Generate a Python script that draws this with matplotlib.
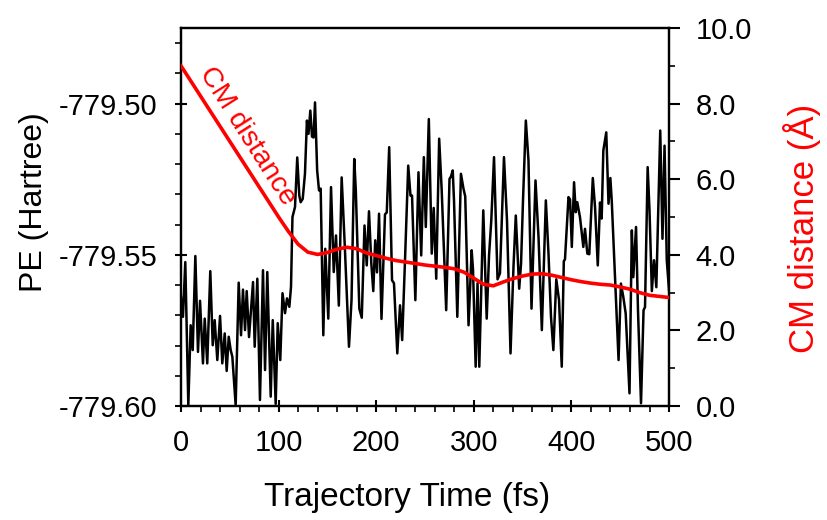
import matplotlib
matplotlib.use("Agg")
import matplotlib.pyplot as plt
from matplotlib.ticker import MultipleLocator, FormatStrFormatter

plt.rcParams['font.family'] = ['Liberation Sans', 'DejaVu Sans']

# potential energy along the trajectory
time_pe = [0.0, 2.0, 4.4, 7.5, 9.9, 12.0, 14.7, 17.4, 19.5, 22.5, 24.3, 26.9, 30.0, 32.5,
           34.5, 37.2, 40.0, 42.3, 44.8, 46.8, 48.9, 50.9, 52.6, 56.0, 59.1, 61.5, 63.5,
           65.6, 67.3, 69.7, 73.8, 75.5, 78.2, 80.9, 84.0, 86.1, 88.4, 91.9, 94.0, 97.0,
           99.1, 101.7, 104.0, 106.6, 108.6, 111.0, 112.7, 114.2, 116.8, 119.1, 121.2,
           122.6, 124.7, 127.0, 129.0, 130.6, 132.5, 134.2, 135.8, 137.3, 139.5, 141.4,
           143.1, 145.8, 147.8, 150.9, 153.7, 156.5, 158.8, 161.7, 164.6, 167.7, 172.1,
           174.7, 177.5, 179.1, 182.7, 185.2, 188.0, 190.3, 192.6, 195.0, 197.0, 199.0,
           200.8, 202.9, 205.4, 209.0, 210.8, 213.3, 216.2, 218.2, 221.6, 224.4, 226.6,
           229.5, 232.8, 235.1, 236.7, 240.1, 243.3, 246.1, 248.8, 250.8, 253.9, 256.9,
           258.9, 261.5, 264.5, 267.1, 271.7, 275.1, 276.6, 278.4, 279.7, 283.1, 286.8,
           289.4, 291.2, 294.6, 297.8, 299.2, 301.9, 303.8, 305.6, 309.7, 313.2, 315.6,
           317.9, 320.7, 324.3, 326.8, 330.9, 334.0, 337.6, 340.7, 343.0, 346.5, 348.4,
           350.4, 353.3, 356.0, 359.1, 363.2, 366.3, 369.7, 373.8, 376.5, 379.1, 381.5,
           384.5, 387.3, 390.1, 392.2, 393.4, 397.0, 398.6, 400.4, 402.7, 404.4, 406.0,
           408.8, 412.2, 413.9, 416.3, 418.3, 421.9, 424.2, 427.0, 429.3, 431.0, 432.7,
           435.7, 438.0, 439.9, 441.3, 444.7, 448.3, 450.7, 453.2, 455.6, 459.5, 461.9,
           463.4, 466.2, 468.2, 471.3, 473.9, 475.4, 478.1, 480.0, 482.4, 484.6, 487.0,
           491.0, 493.3, 495.4, 497.7, 500.0]
pe = [-779.5639, -779.5705, -779.5524, -779.5997, -779.5733, -779.5815, -779.5504,
      -779.5821, -779.5652, -779.5859, -779.5711, -779.5859, -779.5554, -779.5799,
      -779.5716, -779.5848, -779.5702, -779.5859, -779.5760, -779.5884, -779.5771,
      -779.5815, -779.5837, -779.5997, -779.5592, -779.5766, -779.5615, -779.5749,
      -779.5620, -779.5772, -779.5590, -779.5804, -779.5579, -779.5980, -779.5551,
      -779.5881, -779.5557, -779.5969, -779.5716, -779.5993, -779.5726, -779.5848,
      -779.5627, -779.5693, -779.5644, -779.5672, -779.5606, -779.5375, -779.5342,
      -779.5178, -779.5304, -779.5326, -779.5315, -779.5232, -779.5056, -779.5100,
      -779.5023, -779.5109, -779.5112, -779.4996, -779.5221, -779.5287, -779.5281,
      -779.5766, -779.5480, -779.5711, -779.5276, -779.5557, -779.5436, -779.5668,
      -779.5244, -779.5463, -779.5804, -779.5650, -779.5183, -779.5287, -779.5678,
      -779.5708, -779.5403, -779.5535, -779.5356, -779.5529, -779.5620, -779.5452,
      -779.5558, -779.5364, -779.5712, -779.5366, -779.5360, -779.5144, -779.5584,
      -779.5594, -779.5826, -779.5667, -779.5782, -779.5518, -779.5205, -779.5304,
      -779.5304, -779.5650, -779.5227, -779.5502, -779.5177, -779.5408, -779.5051,
      -779.5496, -779.5345, -779.5579, -779.5116, -779.5287, -779.5683, -779.5249,
      -779.5241, -779.5221, -779.5320, -779.5705, -779.5232, -779.5281, -779.5307,
      -779.5733, -779.5485, -779.5551, -779.5870, -779.5594, -779.5870, -779.5353,
      -779.5711, -779.5502, -779.5386, -779.5177, -779.5581, -779.5561, -779.5177,
      -779.5386, -779.5826, -779.5535, -779.5370, -779.5612, -779.5528, -779.5320,
      -779.5056, -779.5188, -779.5678, -779.5254, -779.5442, -779.5749, -779.5320,
      -779.5495, -779.5706, -779.5815, -779.5581, -779.5650, -779.5870, -779.5521,
      -779.5515, -779.5309, -779.5317, -779.5474, -779.5260, -779.5359, -779.5326,
      -779.5376, -779.5474, -779.5414, -779.5496, -779.5498, -779.5246, -779.5343,
      -779.5535, -779.5327, -779.5380, -779.5155, -779.5095, -779.5331, -779.5246,
      -779.5320, -779.5573, -779.5848, -779.5595, -779.5640, -779.5694, -779.5958,
      -779.5419, -779.5574, -779.5408, -779.5683, -779.5991, -779.5683, -779.5673,
      -779.5210, -779.5353, -779.5620, -779.5518, -779.5607, -779.5089, -779.5447,
      -779.5139, -779.5518, -779.5617]

# centre-of-mass distance (Angstrom)
time_cm = [0, 10, 20, 30, 40, 50, 60, 70, 80, 90, 100, 110, 120, 130, 140, 150, 160,
           170, 180, 190, 200, 210, 220, 230, 240, 250, 260, 270, 280, 290, 300, 310,
           320, 330, 340, 350, 360, 370, 380, 390, 400, 410, 420, 430, 440, 450, 460,
           470, 480, 490, 500]
cm_dist = [9.00, 8.60, 8.20, 7.80, 7.40, 7.00, 6.60, 6.20, 5.80, 5.40, 5.00, 4.62,
           4.28, 4.07, 4.01, 4.06, 4.15, 4.20, 4.16, 4.05, 3.98, 3.91, 3.85, 3.81,
           3.77, 3.73, 3.70, 3.67, 3.63, 3.54, 3.38, 3.22, 3.18, 3.28, 3.37, 3.44,
           3.49, 3.50, 3.46, 3.40, 3.34, 3.29, 3.25, 3.22, 3.20, 3.15, 3.09, 3.00,
           2.93, 2.90, 2.87]

pe_ticks = [-779.60, -779.55, -779.50]
cm_ticks = [0, 2, 4, 6, 8, 10]
time_ticks = [0, 100, 200, 300, 400, 500]

fig = plt.figure(figsize=(8.28, 5.2), dpi=100)
ax = fig.add_axes([0.2186, 0.2192, 0.5894, 0.7269])

ax.plot(time_pe, pe, color='black', lw=1.8, zorder=2, solid_joinstyle='round')
ax.set_xlim(0, 500)
ax.set_ylim(-779.60, -779.475)
ax.set_xticks(time_ticks)
ax.set_yticks(pe_ticks)
ax.xaxis.set_minor_locator(MultipleLocator(20))
ax.yaxis.set_minor_locator(MultipleLocator(0.01))
ax.yaxis.set_major_formatter(FormatStrFormatter('%.2f'))
ax.tick_params(which='major', direction='inout', length=9, width=1.5,
               labelsize=21, pad=12.3)
ax.tick_params(which='minor', direction='out', length=4, width=1.2)
ax.tick_params(top=False)

ax.set_xlabel('Trajectory Time (fs)', fontsize=24)
ax.xaxis.set_label_coords(0.464, -0.241)
ax.xaxis.label.set_va('center')
ax.set_ylabel('PE (Hartree)', fontsize=23, va='center')
ax.yaxis.set_label_coords(-0.301, 0.54)

ax2 = ax.twinx()
ax2.plot(time_cm, cm_dist, color='red', lw=2.6, zorder=3)
ax2.set_ylim(0, 10)
ax2.set_yticks(cm_ticks)
ax2.yaxis.set_minor_locator(MultipleLocator(1))
ax2.yaxis.set_major_formatter(FormatStrFormatter('%.1f'))
ax2.tick_params(which='major', direction='out', length=8, width=1.5,
                labelsize=21, pad=11.2)
ax2.tick_params(which='minor', direction='out', length=4, width=1.2)
ax2.set_ylabel('CM distance (Å)', fontsize=25, color='red', va='center')
ax2.yaxis.set_label_coords(1.2725, 0.471)

ax2.text(68, 7.15, 'CM distance', color='red', fontsize=20.5, rotation=-57.6,
         rotation_mode='anchor', ha='center', va='center')

for a in (ax, ax2):
    for s in a.spines.values():
        s.set_linewidth(1.6)

fig.savefig('out.png', dpi=100)
